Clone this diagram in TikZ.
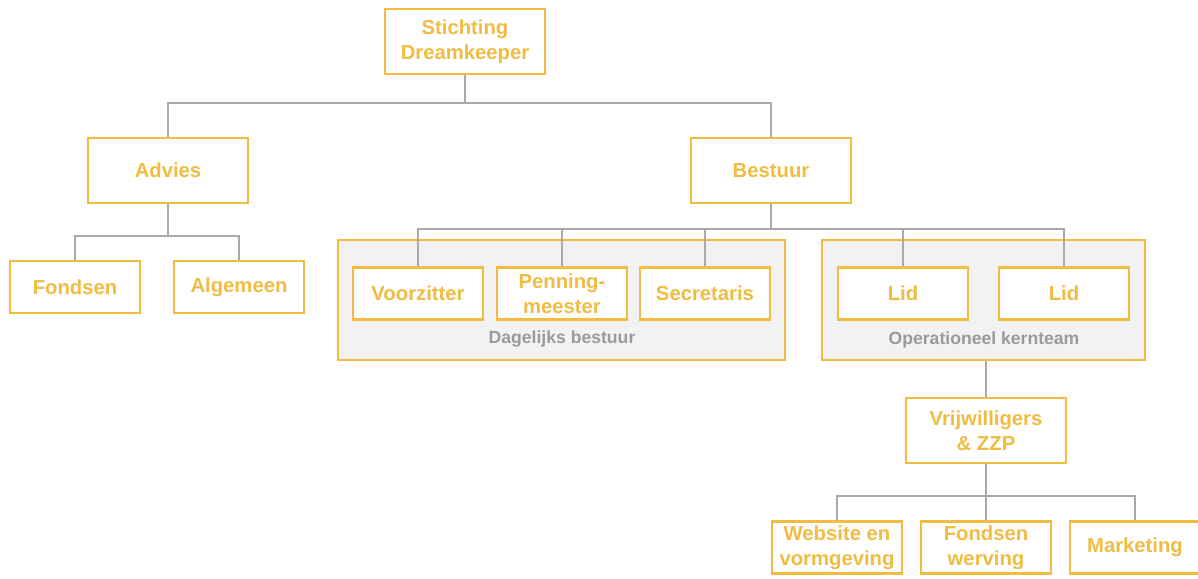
\documentclass[tikz,border=0pt]{standalone}
\usepackage{fontspec}
\setmainfont{Liberation Sans}
\usepackage{xcolor}
\definecolor{dkyellow}{HTML}{F0BC42}
\definecolor{dkgray}{HTML}{AAAAAA}
\definecolor{dklabel}{HTML}{9A9A9A}
\definecolor{dkfill}{HTML}{F2F2F2}

\begin{document}
\begin{tikzpicture}[x=0.75pt, y=-0.75pt,
  unit/.style={draw=dkyellow, line width=2.2pt, fill=white, rectangle, align=center,
    text=dkyellow, font=\fontsize{15.2}{18.75}\selectfont\bfseries},
  big/.style={unit, minimum width=120pt, minimum height=48.75pt},
  small/.style={unit, minimum width=97.5pt, minimum height=39pt},
  group/.style={draw=dkyellow, line width=2.2pt, fill=dkfill, rectangle, minimum height=90pt},
  grouplabel/.style={text=dklabel, font=\fontsize{13.2}{15}\selectfont\bfseries},
  link/.style={draw=dkgray, line width=1.2pt}]
\useasboundingbox (0,0) rectangle (1198,578);

% groups
\node[group, minimum width=335.25pt] (db) at (561.5,300) {};
\node[group, minimum width=242.25pt] (ok) at (983.5,300) {};
\node[grouplabel] (dbl) at (562,338.5) {Dagelijks bestuur};
\node[grouplabel] (okl) at (984,339.5) {Operationeel kernteam};

% boxes
\node[big] (sd) at (465,41.5) {Stichting\\Dreamkeeper};
\node[big] (adv) at (168,170.5) {Advies};
\node[big] (bst) at (771,170.5) {Bestuur};
\node[small] (fo) at (75,287) {Fondsen};
\node[small] (alg) at (239,287) {Algemeen};
\node[small] (vz) at (418,293.5) {Voorzitter};
\node[small] (pm) at (562,293.5) {Penning-\\meester};
\node[small] (sec) at (705,293.5) {Secretaris};
\node[small] (lid1) at (903,293.5) {Lid};
\node[small] (lid2) at (1064,293.5) {Lid};
\node[big] (vw) at (986,430.5) {Vrijwilligers\\\& ZZP};
\node[small] (web) at (837,547.5) {Website en\\vormgeving};
\node[small] (fw) at (986,547.5) {Fondsen\\werving};
\node[small] (mkt) at (1135,547.5) {Marketing};

% junctions
\coordinate (j1) at (465,103);
\coordinate (j2) at (168,236);
\coordinate (j3) at (771,229);
\coordinate (j4) at (986,496);

% connectors
\draw[link] (sd.south) -- (j1);
\draw[link] (adv.north) |- (j1) -| (bst.north);
\draw[link] (adv.south) -- (j2);
\draw[link] (fo.north) |- (j2) -| (alg.north);
\draw[link] (bst.south) -- (j3);
\draw[link] (vz.north) |- (j3) -| (lid2.north);
\draw[link] (pm.north) -- (pm.north |- j3);
\draw[link] (sec.north) -- (sec.north |- j3);
\draw[link] (lid1.north) -- (lid1.north |- j3);
\draw[link] (vw.north) -- (vw.north |- ok.south);
\draw[link] (vw.south) -- (vw.south |- j4);
\draw[link] (web.north) |- (j4) -| (mkt.north);
\draw[link] (fw.north) -- (fw.north |- j4);
\end{tikzpicture}
\end{document}
